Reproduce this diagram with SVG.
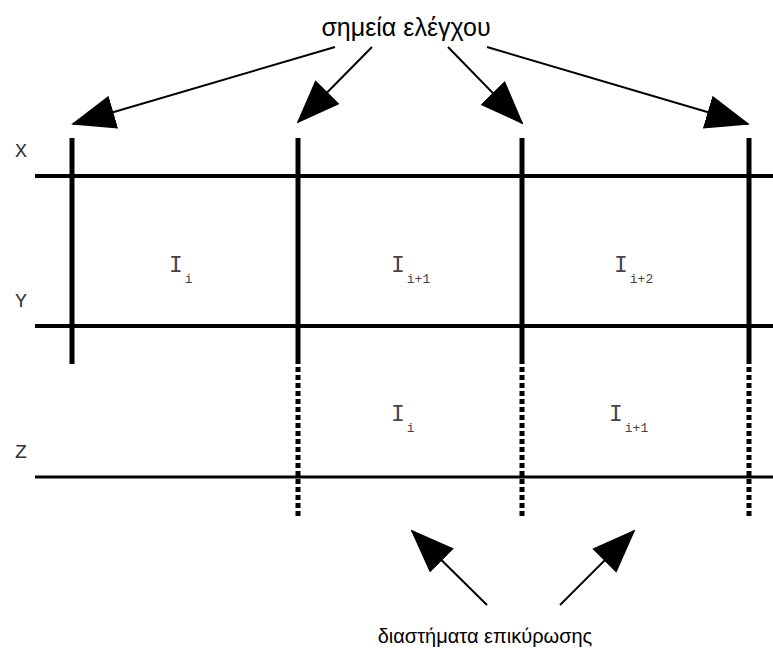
<svg xmlns="http://www.w3.org/2000/svg" width="773" height="654" viewBox="0 0 773 654">
<style>
.h{stroke:#000;stroke-width:4;fill:none}
.v{stroke:#000;stroke-width:5;fill:none}
.d{stroke:#000;stroke-width:5;fill:none;stroke-dasharray:5 3}
.a{stroke:#000;stroke-width:2;fill:none;marker-end:url(#ah)}
.lab{font-family:"Liberation Mono",monospace;font-size:20px;fill:#333}
.big{font-family:"Liberation Mono",monospace;font-size:23px;fill:#444}
.sub{font-family:"Liberation Mono",monospace;font-size:13px;fill:#444}
.gr{font-family:"Liberation Sans","DejaVu Sans",sans-serif;fill:#000;text-anchor:middle}
</style>
<defs>
<marker id="ah" markerUnits="userSpaceOnUse" viewBox="0 -17 44 34" refX="42" refY="0" markerWidth="44" markerHeight="34" orient="auto">
<path d="M0,-17 L44,0 L0,17 z" fill="#000"/>
</marker>
</defs>
<g id="lines">
<line id="lineX" class="h" x1="35" y1="176" x2="773" y2="176"/>
<line id="lineY" class="h" x1="35" y1="326" x2="773" y2="326"/>
<line id="lineZ" class="h" x1="35" y1="477" x2="773" y2="477" style="stroke-width:3"/>
<line class="v" x1="72" y1="138" x2="72" y2="364"/>
<line class="v" x1="298" y1="138" x2="298" y2="364"/>
<line class="v" x1="522" y1="138" x2="522" y2="364"/>
<line class="v" x1="749" y1="138" x2="749" y2="364"/>
<line class="d" x1="298" y1="367" x2="298" y2="516"/>
<line class="d" x1="522" y1="367" x2="522" y2="516"/>
<line class="d" x1="749" y1="367" x2="749" y2="516"/>
</g>
<g id="axis-labels">
<text class="lab" x="15" y="157">X</text>
<text class="lab" x="15" y="307">Y</text>
<text class="lab" x="15" y="458">Z</text>
</g>
<g id="intervals">
<text class="big" x="169" y="272">I<tspan class="sub" dx="2" dy="11">i</tspan></text>
<text class="big" x="391" y="272">I<tspan class="sub" dx="2" dy="11">i+1</tspan></text>
<text class="big" x="614" y="272">I<tspan class="sub" dx="2" dy="11">i+2</tspan></text>
<text class="big" x="391" y="421">I<tspan class="sub" dx="2" dy="11">i</tspan></text>
<text class="big" x="609" y="421">I<tspan class="sub" dx="2" dy="11">i+1</tspan></text>
</g>
<g id="checkpoints-label">
<text class="gr" x="406" y="36" style="font-size:25px">σημεία ελέγχου</text>
</g>
<g id="validation-label">
<text class="gr" x="485" y="643" style="font-size:20px">διαστήματα επικύρωσης</text>
</g>
<g id="connectors">
<line class="a" x1="335" y1="47" x2="73" y2="124"/>
<line class="a" x1="372" y1="47" x2="298" y2="122"/>
<line class="a" x1="448" y1="47" x2="522" y2="123"/>
<line class="a" x1="487" y1="47" x2="748" y2="124"/>
<line class="a" x1="487" y1="605" x2="412" y2="531"/>
<line class="a" x1="560" y1="605" x2="634" y2="531"/>
</g>
</svg>
